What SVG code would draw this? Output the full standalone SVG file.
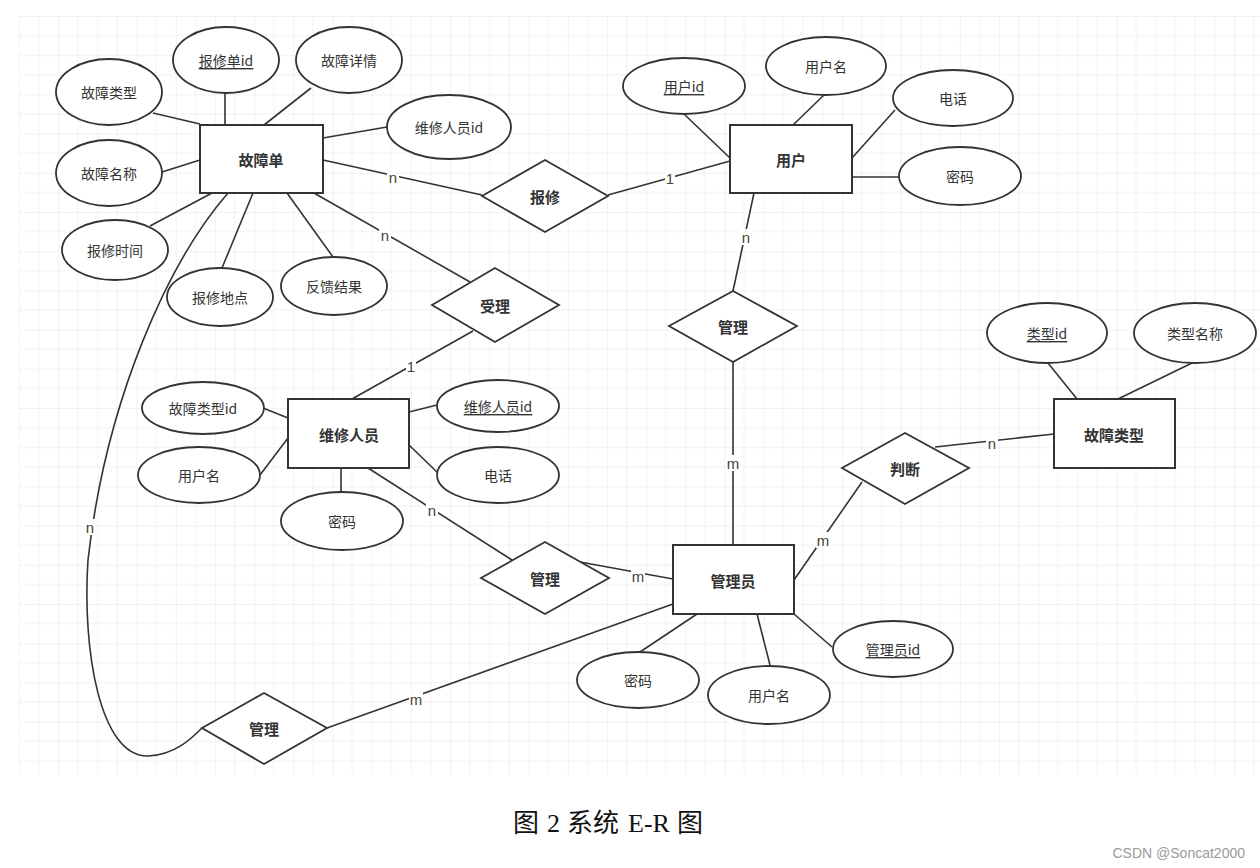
<svg xmlns="http://www.w3.org/2000/svg" width="1260" height="868" viewBox="0 0 1260 868">
<style>
.ent{fill:#fff;stroke:#333;stroke-width:2}
.att{fill:#fff;stroke:#333;stroke-width:1.8}
.rel{fill:#fff;stroke:#333;stroke-width:1.8}
.ln{stroke:#333;stroke-width:1.6;fill:none}
.t{font-family:"Noto Sans CJK SC","Noto Sans",sans-serif;font-size:14px;fill:#333;text-anchor:middle;dominant-baseline:central}
.b{font-weight:bold;font-size:15px}
.u{text-decoration:underline}
.lb{font-family:"Liberation Sans","Noto Sans",sans-serif;font-size:15px;fill:#4a4232;text-anchor:middle;dominant-baseline:central}
.lbg{fill:#fff}
.cap{font-family:"Liberation Serif","Noto Sans CJK SC",serif;font-size:26px;fill:#111}
</style>
<defs>
<pattern id="grid" x="19" y="16" width="39.2" height="39.2" patternUnits="userSpaceOnUse">
<path d="M19.6 0V39.2M0 19.6H39.2" stroke="#f1f1f1" stroke-width="1"/>
<path d="M0 0V39.2M0 0H39.2" stroke="#e6e6e6" stroke-width="1"/>
</pattern>
</defs>
<rect width="1260" height="868" fill="#fff"/>
<rect x="19" y="16" width="1241" height="759" fill="url(#grid)"/>

<g id="connectors">
<line class="ln" x1="153" y1="113" x2="200" y2="124"/>
<line class="ln" x1="225" y1="93" x2="225" y2="125"/>
<line class="ln" x1="311" y1="88" x2="264" y2="125"/>
<line class="ln" x1="323" y1="138" x2="387" y2="127"/>
<line class="ln" x1="162" y1="172" x2="200" y2="160"/>
<line class="ln" x1="150" y1="226" x2="212" y2="193"/>
<line class="ln" x1="222" y1="268" x2="253" y2="193"/>
<line class="ln" x1="333" y1="257" x2="287" y2="193"/>
<line class="ln" x1="323" y1="160" x2="482" y2="195"/>
<line class="ln" x1="608" y1="195" x2="730" y2="161"/>
<line class="ln" x1="314" y1="193" x2="470" y2="282"/>
<line class="ln" x1="473" y1="331" x2="352" y2="399"/>
<line class="ln" x1="685" y1="115" x2="730" y2="158"/>
<line class="ln" x1="824" y1="95" x2="793" y2="125"/>
<line class="ln" x1="895" y1="110" x2="852" y2="158"/>
<line class="ln" x1="852" y1="177" x2="899" y2="177"/>
<line class="ln" x1="754" y1="193" x2="733" y2="291"/>
<line class="ln" x1="733" y1="362" x2="733" y2="545"/>
<line class="ln" x1="935" y1="447" x2="1054" y2="434"/>
<line class="ln" x1="862" y1="482" x2="794" y2="580"/>
<line class="ln" x1="1048" y1="363" x2="1077" y2="399"/>
<line class="ln" x1="1192" y1="363" x2="1118" y2="399"/>
<line class="ln" x1="263" y1="408" x2="288" y2="418"/>
<line class="ln" x1="260" y1="475" x2="288" y2="438"/>
<line class="ln" x1="409" y1="412" x2="437" y2="405"/>
<line class="ln" x1="409" y1="445" x2="438" y2="473"/>
<line class="ln" x1="341" y1="468" x2="341" y2="492"/>
<line class="ln" x1="368" y1="468" x2="512" y2="560"/>
<line class="ln" x1="580" y1="562" x2="673" y2="579"/>
<line class="ln" x1="640" y1="652" x2="697" y2="614"/>
<line class="ln" x1="770" y1="665" x2="757" y2="614"/>
<line class="ln" x1="832" y1="647" x2="794" y2="614"/>
<line class="ln" x1="673" y1="604" x2="327" y2="728"/>
<path class="ln" d="M228,193 C168,262 106,400 88,560 C82,650 100,757 148,756 C175,755 192,738 202,728"/>
<g id="edge-labels">
<rect class="lbg" x="387" y="169" width="12" height="16"/><text class="lb" x="393" y="177">n</text>
<rect class="lbg" x="665" y="170" width="10" height="16"/><text class="lb" x="670" y="178">1</text>
<rect class="lbg" x="379" y="227" width="12" height="16"/><text class="lb" x="385" y="235">n</text>
<rect class="lbg" x="406" y="358" width="10" height="16"/><text class="lb" x="411" y="366">1</text>
<rect class="lbg" x="740" y="229" width="12" height="16"/><text class="lb" x="746" y="237">n</text>
<rect class="lbg" x="726" y="455" width="14" height="16"/><text class="lb" x="733" y="463">m</text>
<rect class="lbg" x="986" y="435" width="12" height="16"/><text class="lb" x="992" y="443">n</text>
<rect class="lbg" x="816" y="532" width="14" height="16"/><text class="lb" x="823" y="540">m</text>
<rect class="lbg" x="426" y="502" width="12" height="16"/><text class="lb" x="432" y="510">n</text>
<rect class="lbg" x="631" y="568" width="14" height="16"/><text class="lb" x="638" y="576">m</text>
<rect class="lbg" x="409" y="691" width="14" height="16"/><text class="lb" x="416" y="699">m</text>
<rect class="lbg" x="84" y="519" width="12" height="16"/><text class="lb" x="90" y="527">n</text>
</g>
</g>

<g id="e-guzhangdan"><rect class="ent" x="200" y="125" width="123" height="68"/><text class="t b" x="261" y="159">故障单</text></g>
<g id="a-baoxiudanid"><ellipse class="att" cx="226" cy="60" rx="53" ry="33"/><text class="t u" x="226" y="60">报修单id</text></g>
<g id="a-guzhangxiangqing"><ellipse class="att" cx="349" cy="60" rx="53" ry="33"/><text class="t" x="349" y="60">故障详情</text></g>
<g id="a-guzhangleixing"><ellipse class="att" cx="109" cy="92" rx="53" ry="33"/><text class="t" x="109" y="92">故障类型</text></g>
<g id="a-weixiurenyuanid"><ellipse class="att" cx="449" cy="127" rx="62" ry="32"/><text class="t" x="449" y="127">维修人员id</text></g>
<g id="a-guzhangmingcheng"><ellipse class="att" cx="109" cy="173" rx="53" ry="33"/><text class="t" x="109" y="173">故障名称</text></g>
<g id="a-baoxiushijian"><ellipse class="att" cx="115" cy="250" rx="53" ry="30"/><text class="t" x="115" y="250">报修时间</text></g>
<g id="a-baoxiudidian"><ellipse class="att" cx="220" cy="297" rx="53" ry="29"/><text class="t" x="220" y="297">报修地点</text></g>
<g id="a-fankuijieguo"><ellipse class="att" cx="334" cy="286" rx="53" ry="29"/><text class="t" x="334" y="286">反馈结果</text></g>

<g id="r-baoxiu"><polygon class="rel" points="482,196 545,160 608,196 545,232"/><text class="t b" x="545" y="196">报修</text></g>
<g id="r-shouli"><polygon class="rel" points="432,305 495,268 559,305 495,342"/><text class="t b" x="495" y="305">受理</text></g>

<g id="e-yonghu"><rect class="ent" x="730" y="125" width="122" height="68"/><text class="t b" x="791" y="159">用户</text></g>
<g id="a-yonghuid"><ellipse class="att" cx="684" cy="86" rx="61" ry="28"/><text class="t u" x="684" y="86">用户id</text></g>
<g id="a-yonghuming1"><ellipse class="att" cx="826" cy="66" rx="60" ry="29"/><text class="t" x="826" y="66">用户名</text></g>
<g id="a-dianhua1"><ellipse class="att" cx="953" cy="98" rx="60" ry="28"/><text class="t" x="953" y="98">电话</text></g>
<g id="a-mima1"><ellipse class="att" cx="960" cy="176" rx="61" ry="29"/><text class="t" x="960" y="176">密码</text></g>

<g id="r-guanli1"><polygon class="rel" points="669,326 733,291 797,326 733,362"/><text class="t b" x="733" y="326">管理</text></g>

<g id="e-guzhangleixing"><rect class="ent" x="1054" y="399" width="121" height="69"/><text class="t b" x="1114" y="434">故障类型</text></g>
<g id="a-leixingid"><ellipse class="att" cx="1047" cy="333" rx="60" ry="30"/><text class="t u" x="1047" y="333">类型id</text></g>
<g id="a-leixingmingcheng"><ellipse class="att" cx="1195" cy="333" rx="61" ry="30"/><text class="t" x="1195" y="333">类型名称</text></g>

<g id="r-panduan"><polygon class="rel" points="842,468 905,433 969,468 905,504"/><text class="t b" x="905" y="468">判断</text></g>

<g id="e-weixiurenyuan"><rect class="ent" x="288" y="399" width="121" height="69"/><text class="t b" x="349" y="434">维修人员</text></g>
<g id="a-guzhangleixingid"><ellipse class="att" cx="203" cy="408" rx="61" ry="26"/><text class="t" x="203" y="408">故障类型id</text></g>
<g id="a-yonghuming2"><ellipse class="att" cx="199" cy="475" rx="61" ry="28"/><text class="t" x="199" y="475">用户名</text></g>
<g id="a-weixiurenyuanid2"><ellipse class="att" cx="498" cy="406" rx="61" ry="26"/><text class="t u" x="498" y="406">维修人员id</text></g>
<g id="a-dianhua2"><ellipse class="att" cx="498" cy="475" rx="61" ry="28"/><text class="t" x="498" y="475">电话</text></g>
<g id="a-mima2"><ellipse class="att" cx="342" cy="521" rx="61" ry="29"/><text class="t" x="342" y="521">密码</text></g>

<g id="r-guanli2"><polygon class="rel" points="481,578 545,542 609,578 545,614"/><text class="t b" x="545" y="578">管理</text></g>

<g id="e-guanliyuan"><rect class="ent" x="673" y="545" width="121" height="69"/><text class="t b" x="733" y="580">管理员</text></g>
<g id="a-mima3"><ellipse class="att" cx="638" cy="680" rx="61" ry="28"/><text class="t" x="638" y="680">密码</text></g>
<g id="a-yonghuming3"><ellipse class="att" cx="769" cy="695" rx="61" ry="29"/><text class="t" x="769" y="695">用户名</text></g>
<g id="a-guanliyuanid"><ellipse class="att" cx="893" cy="649" rx="60" ry="28"/><text class="t u" x="893" y="649">管理员id</text></g>

<g id="r-guanli3"><polygon class="rel" points="202,728 264,693 327,728 264,764"/><text class="t b" x="264" y="728">管理</text></g>

<text class="cap" y="832"><tspan x="513">图</tspan><tspan x="547">2</tspan><tspan x="567">系统</tspan><tspan x="628">E-R</tspan><tspan x="677">图</tspan></text>
<text x="1245" y="858" font-family="'Liberation Sans','Noto Sans',sans-serif" font-size="14" fill="#9a9a9a" text-anchor="end">CSDN @Soncat2000</text>
</svg>
